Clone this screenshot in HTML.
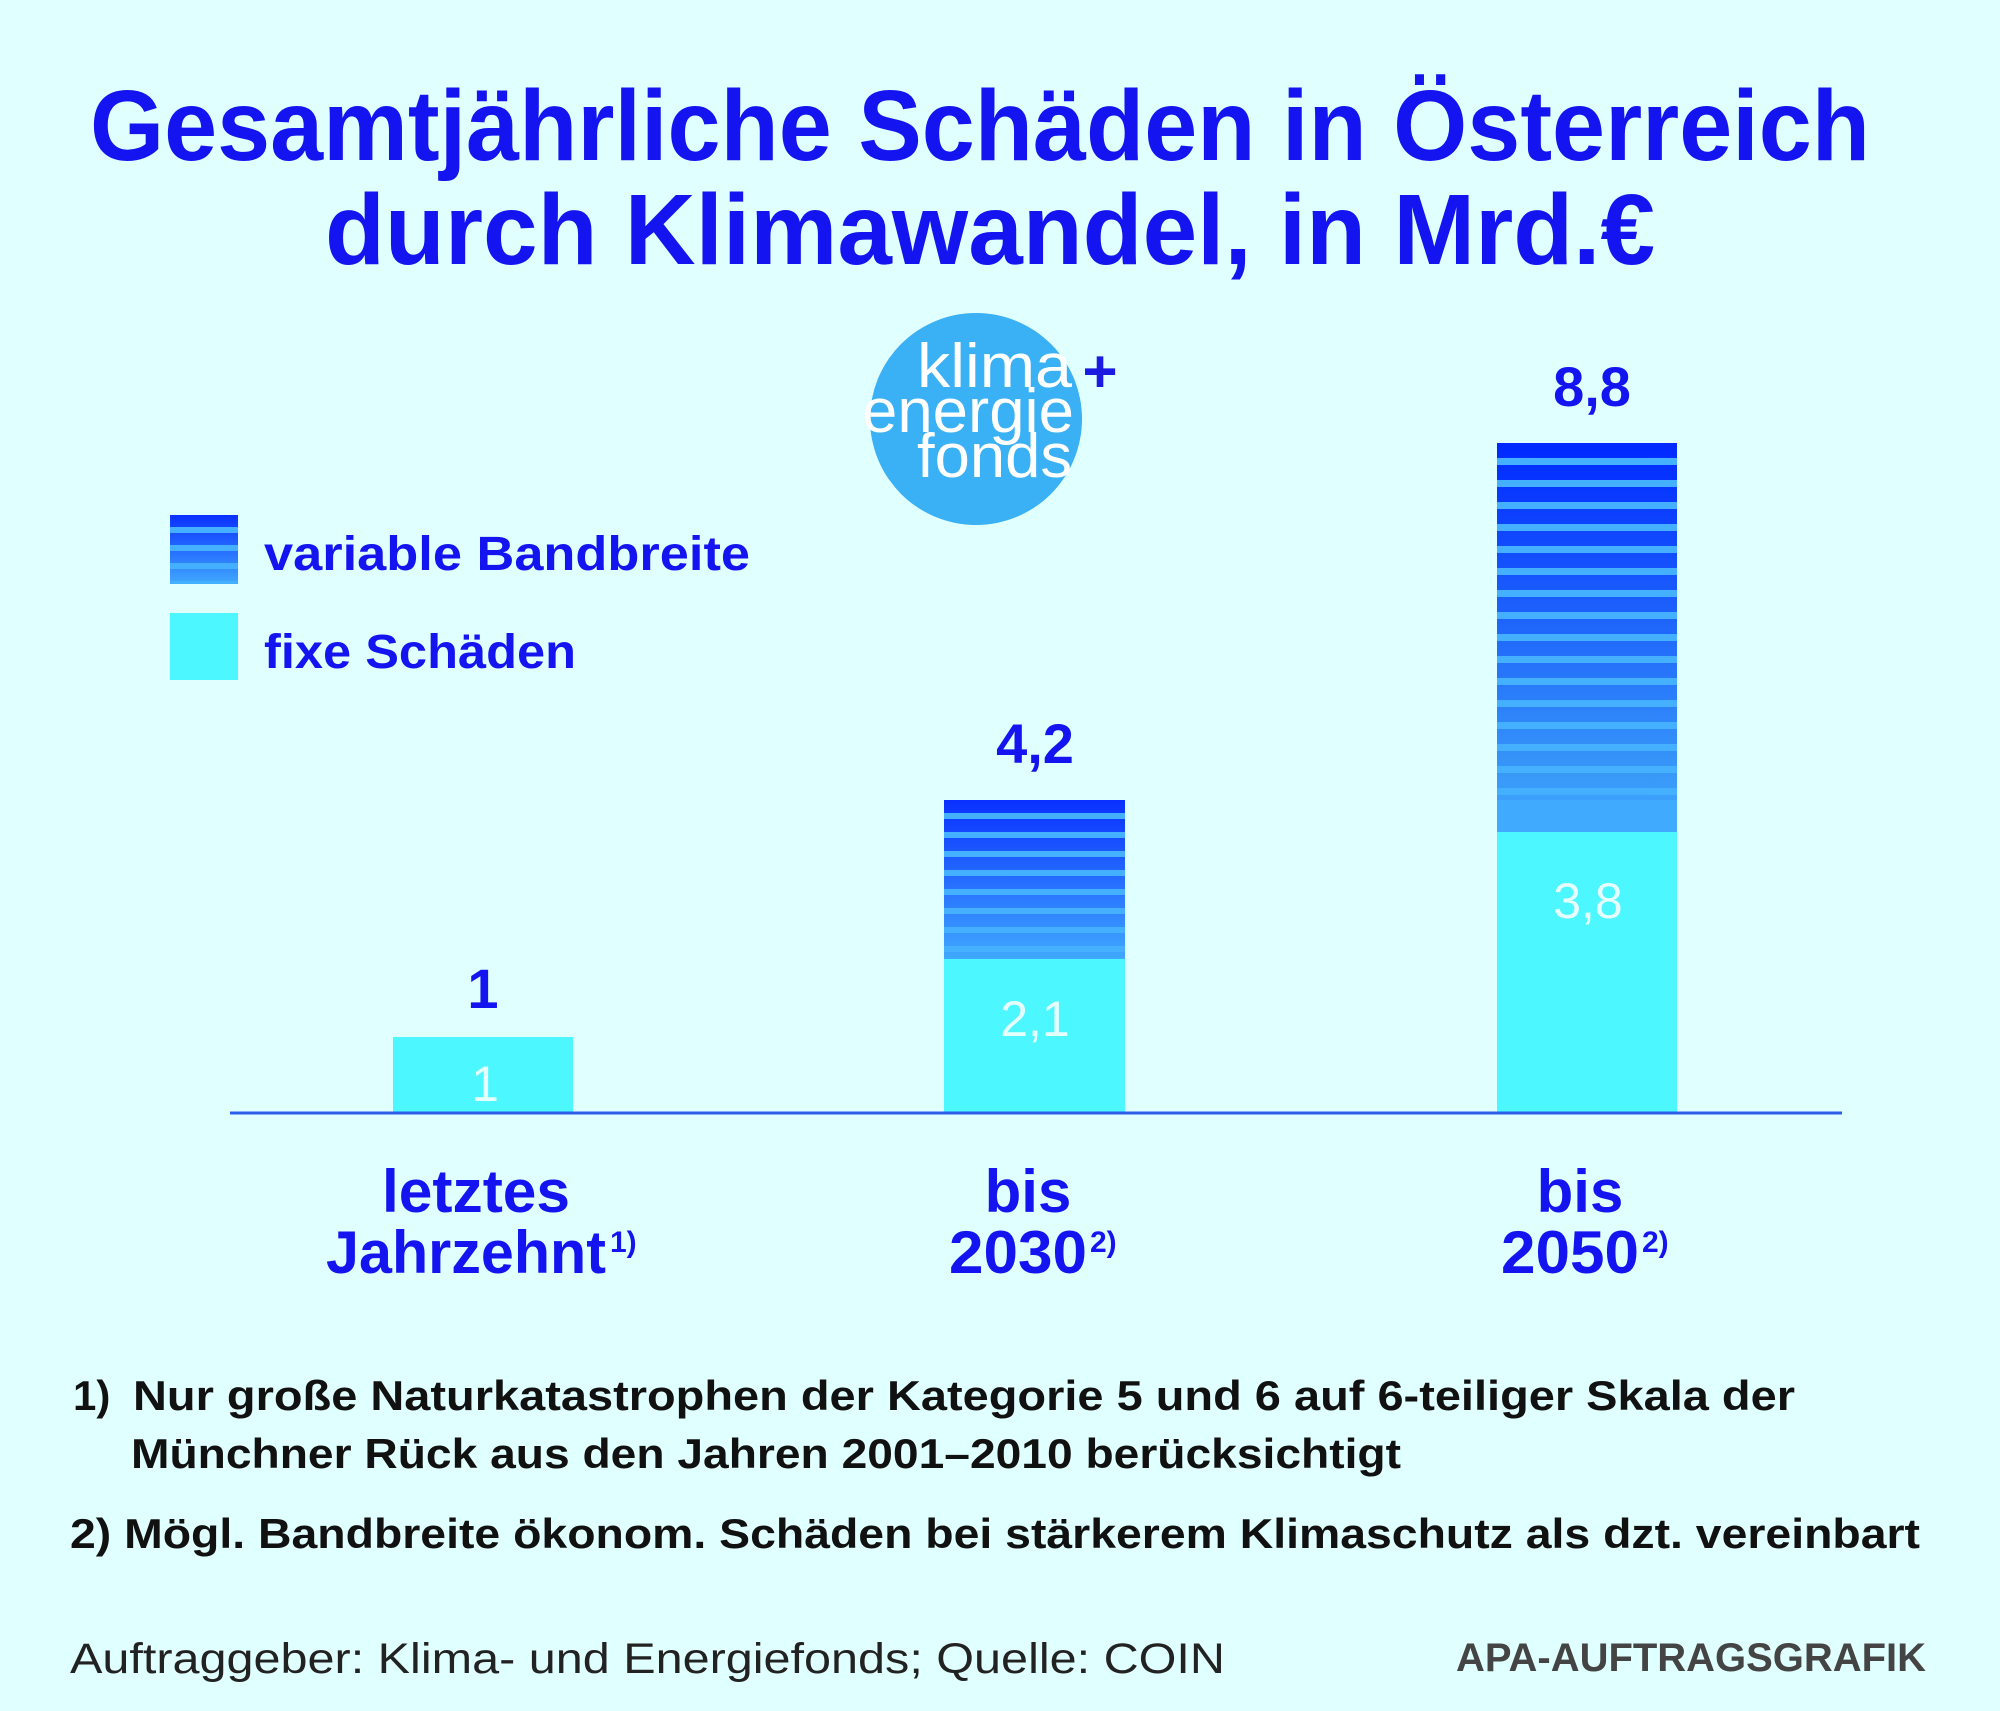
<!DOCTYPE html>
<html><head><meta charset="utf-8"><style>html,body{margin:0;padding:0;background:#e0ffff}svg{display:block}</style></head>
<body>
<svg width="2000" height="1711" viewBox="0 0 2000 1711" xmlns="http://www.w3.org/2000/svg" font-family="Liberation Sans, DejaVu Sans, sans-serif">
<defs>
<linearGradient id="g3" x1="0" y1="0" x2="0" y2="1"><stop offset="0" stop-color="#0028ff"/><stop offset="0.85" stop-color="#3898f8"/><stop offset="1" stop-color="#40aaff"/></linearGradient>
<linearGradient id="g2" x1="0" y1="0" x2="0" y2="1"><stop offset="0" stop-color="#0a30ff"/><stop offset="1" stop-color="#40a8ff"/></linearGradient>
<linearGradient id="gl" x1="0" y1="0" x2="0" y2="1"><stop offset="0" stop-color="#0a30ff"/><stop offset="1" stop-color="#40a8ff"/></linearGradient>
<pattern id="p3" x="0" y="443" width="40" height="22" patternUnits="userSpaceOnUse"><rect y="15" width="40" height="7" fill="#44b0ff"/></pattern>
<pattern id="p2" x="0" y="800" width="40" height="19" patternUnits="userSpaceOnUse"><rect y="13" width="40" height="6" fill="#44b0ff"/></pattern>
<pattern id="pl" x="0" y="515" width="40" height="18" patternUnits="userSpaceOnUse"><rect y="12" width="40" height="6" fill="#44b0ff"/></pattern>
</defs>
<rect width="2000" height="1711" fill="#e0ffff"/>
<g fill="#1414f0" font-weight="bold" text-anchor="middle">
<text x="980" y="160" font-size="100" textLength="1780" lengthAdjust="spacingAndGlyphs">Gesamtjährliche Schäden in Österreich</text>
<text x="990" y="264" font-size="100" textLength="1330" lengthAdjust="spacingAndGlyphs">durch Klimawandel, in Mrd.€</text>
</g>
<!-- logo -->
<circle cx="976" cy="419" r="106" fill="#3ab0f5"/>
<g fill="#fff" font-size="62" text-anchor="end">
<text x="1072" y="387" textLength="155" lengthAdjust="spacingAndGlyphs">klima</text>
<text x="1074" y="432" textLength="212" lengthAdjust="spacingAndGlyphs">energie</text>
<text x="1072" y="477" textLength="155" lengthAdjust="spacingAndGlyphs">fonds</text>
</g>
<text x="1100" y="392" fill="#1a1ae0" font-size="60" font-weight="bold" text-anchor="middle">+</text>
<!-- legend -->
<rect x="170" y="515" width="68" height="69" fill="url(#gl)"/><rect x="170" y="515" width="68" height="69" fill="url(#pl)"/>
<rect x="170" y="613" width="68" height="67" fill="#4cf7ff"/>
<g fill="#1414f0" font-weight="bold" font-size="48">
<text x="264" y="570" textLength="486" lengthAdjust="spacingAndGlyphs">variable Bandbreite</text>
<text x="264" y="668" textLength="312" lengthAdjust="spacingAndGlyphs">fixe Schäden</text>
</g>
<!-- bars -->
<rect x="393" y="1037" width="180" height="76" fill="#4cf7ff"/>
<rect x="944" y="959" width="181" height="154" fill="#4cf7ff"/>
<rect x="944" y="800" width="181" height="159" fill="url(#g2)"/><rect x="944" y="800" width="181" height="159" fill="url(#p2)"/>
<rect x="1497" y="832" width="180" height="281" fill="#4cf7ff"/>
<rect x="1497" y="443" width="180" height="389" fill="url(#g3)"/><rect x="1497" y="443" width="180" height="389" fill="url(#p3)"/>
<rect x="1497" y="800" width="180" height="32" fill="#40aaff"/>
<line x1="230" y1="1113" x2="1842" y2="1113" stroke="#2a5ee8" stroke-width="3"/>
<g fill="#1414f0" font-weight="bold" font-size="56" text-anchor="middle">
<text x="483" y="1008">1</text>
<text x="1035" y="763">4,2</text>
<text x="1592" y="406">8,8</text>
</g>
<g fill="#e6ffff" font-size="50" text-anchor="middle">
<text x="485" y="1101">1</text>
<text x="1035" y="1036">2,1</text>
<text x="1588" y="918">3,8</text>
</g>
<g fill="#1414f0" font-weight="bold" font-size="60" text-anchor="middle">
<text x="476" y="1212" textLength="188" lengthAdjust="spacingAndGlyphs">letztes</text>
<text x="466" y="1273" textLength="280" lengthAdjust="spacingAndGlyphs">Jahrzehnt</text>
<text x="1028" y="1212">bis</text>
<text x="1018" y="1273" textLength="138" lengthAdjust="spacingAndGlyphs">2030</text>
<text x="1580" y="1212">bis</text>
<text x="1570" y="1273" textLength="138" lengthAdjust="spacingAndGlyphs">2050</text>
</g>
<g fill="#1414f0" font-weight="bold" font-size="30">
<text x="610" y="1252">1)</text>
<text x="1090" y="1252">2)</text>
<text x="1642" y="1252">2)</text>
</g>
<!-- footnotes -->
<g fill="#111" font-weight="bold" font-size="42">
<text x="73" y="1410">1)</text>
<text x="133" y="1410" textLength="1662" lengthAdjust="spacingAndGlyphs">Nur große Naturkatastrophen der Kategorie 5 und 6 auf 6-teiliger Skala der</text>
<text x="131" y="1468" textLength="1270" lengthAdjust="spacingAndGlyphs">Münchner Rück aus den Jahren 2001–2010 berücksichtigt</text>
<text x="70" y="1548" textLength="1850" lengthAdjust="spacingAndGlyphs">2) Mögl. Bandbreite ökonom. Schäden bei stärkerem Klimaschutz als dzt. vereinbart</text>
</g>
<text x="70" y="1673" fill="#222" font-size="43" textLength="1155" lengthAdjust="spacingAndGlyphs">Auftraggeber: Klima- und Energiefonds; Quelle: COIN</text>
<text x="1926" y="1671" fill="#444" font-weight="bold" font-size="40" text-anchor="end" textLength="470" lengthAdjust="spacingAndGlyphs">APA-AUFTRAGSGRAFIK</text>
</svg>
</body></html>
